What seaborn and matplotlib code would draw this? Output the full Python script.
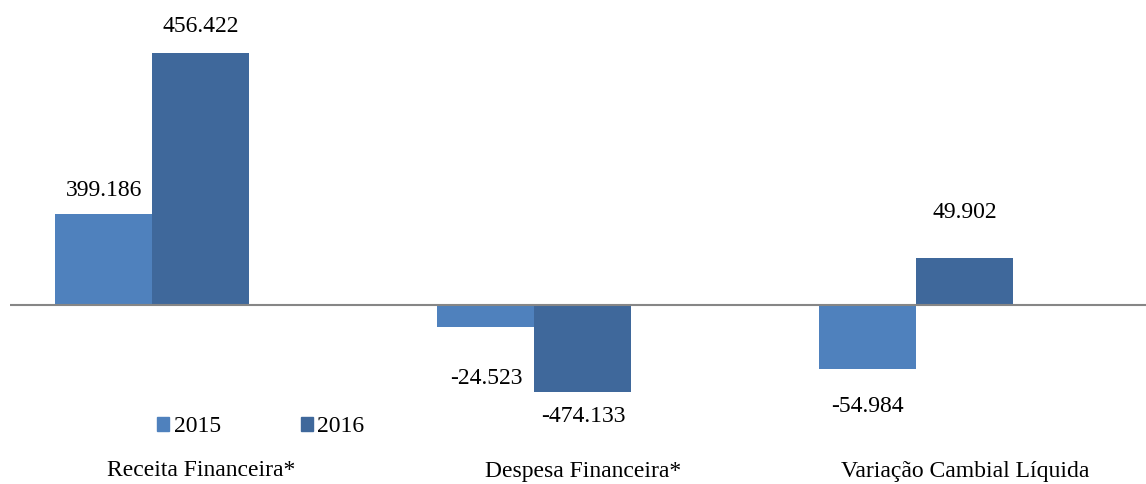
import pandas as pd
import seaborn as sns
import matplotlib.pyplot as plt
from matplotlib.patches import Patch

# categories and the values printed on the chart
categories = ["Receita Financeira*", "Despesa Financeira*", "Variação Cambial Líquida"]
years = ["2015", "2016"]
labels_2015 = ["399.186", "-24.523", "-54.984"]
labels_2016 = ["456.422", "-474.133", "49.902"]

# bar heights as drawn in the source chart (it is not to scale with its labels)
height_2015 = [91, -22, -64]
height_2016 = [252, -87, 47]

colors = {"2015": "#4F81BD", "2016": "#3F689B", "blank": "#FFFFFF"}

sns.set_style("white")
plt.rcParams["font.family"] = ["Liberation Serif", "DejaVu Serif"]
plt.rcParams["text.color"] = "black"

df = pd.DataFrame({
    "categoria": categories * 2,
    "ano": ["2015"] * 3 + ["2016"] * 3,
    "altura": height_2015 + height_2016,
})

fig = plt.figure(figsize=(11.46, 4.84), dpi=100)
ax = fig.add_axes([10 / 1146, 0, 1136 / 1146, 1])

# third (empty) series keeps the same spacing as the original Excel chart
sns.barplot(
    data=df, x="categoria", y="altura", hue="ano",
    hue_order=["2015", "2016", "blank"], order=categories,
    palette=colors, width=0.762, gap=0, linewidth=0, saturation=1,
    errorbar=None, legend=False, ax=ax,
)

ax.axhline(0, color="#868686", lw=1.5, zorder=3)
ax.set_xlim(-0.5, 2.474)
ax.set_ylim(-179, 305)
ax.set_axis_off()

# value labels (offset from bar end, as in the source)
gap_2015 = [24, -51, -37]
gap_2016 = [27, -25, 45]
bw = 0.254
for i in range(3):
    ax.text(i - bw, height_2015[i] + gap_2015[i], labels_2015[i],
            ha="center", va="center", fontsize=17, color="black")
    ax.text(i, height_2016[i] + gap_2016[i], labels_2016[i],
            ha="center", va="center", fontsize=17, color="black")
    ax.text(i, -166, categories[i], ha="center", va="center", fontsize=17, color="black")

handles = [Patch(color=colors[y], label=y) for y in years]
fig.legend(handles=handles, loc="center left", bbox_to_anchor=(157 / 1146, 1 - 427 / 484),
           ncol=2, frameon=False, fontsize=17, handlelength=0.5, handleheight=0.5,
           handletextpad=0.2, columnspacing=3.4, borderpad=0, borderaxespad=0,
           labelcolor="black")

fig.savefig("out.png", dpi=100)
